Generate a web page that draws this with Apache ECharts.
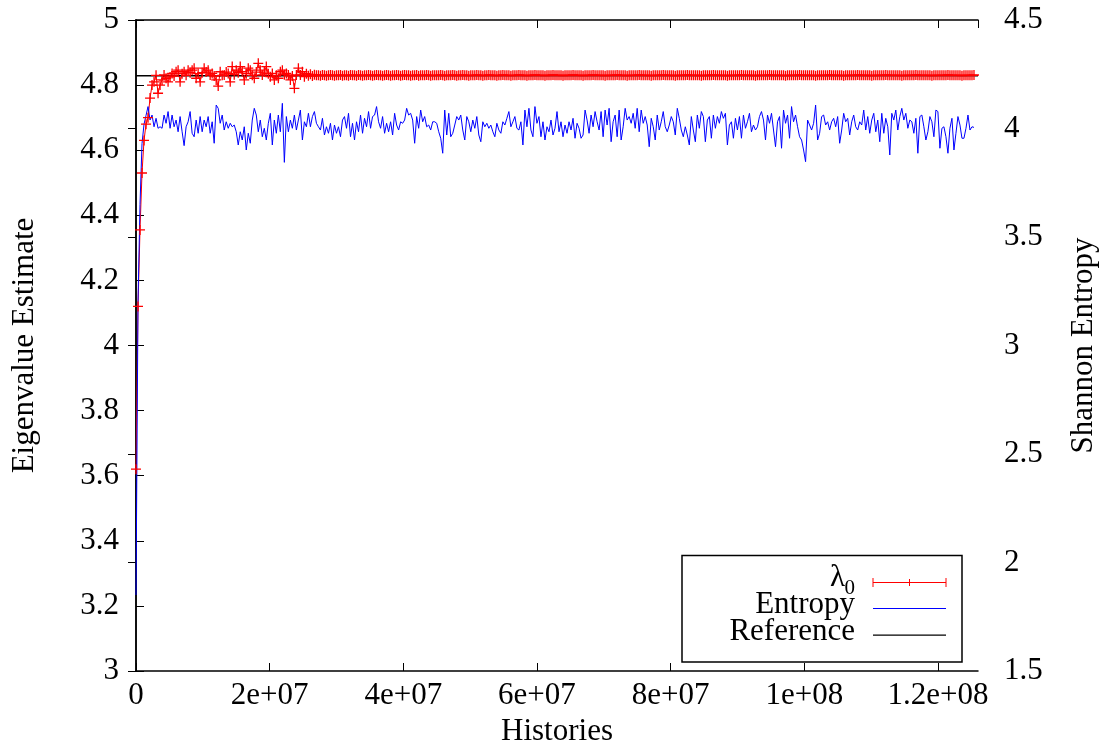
<!DOCTYPE html>
<html>
<head>
<meta charset="utf-8">
<script src="https://cdn.jsdelivr.net/npm/echarts@6/dist/echarts.min.js"></script>
<style>
html,body{margin:0;padding:0;background:#fff;}
#chart{width:1107px;height:753px;}
</style>
</head>
<body>
<div id="chart"></div>
<script>
// ---- data ----
const XSTEP = 3e5;           // histories between successive estimates
const XMAX = 1.26e8;
const XINT = 2e7;
const xTickLabels = ['0', '2e+07', '4e+07', '6e+07', '8e+07', '1e+08', '1.2e+08'];
const REFERENCE = 4.829;

const lambda0 = [
3.62,4.12,4.355,4.53,4.63,4.68,4.70,4.76,4.80,4.81,4.83,4.775,4.80,
4.816,4.831,4.821,4.81,4.825,4.836,4.828,4.841,4.846,4.81,4.835,4.841,4.83,4.846,4.838,4.846,4.852,4.821,
4.835,4.81,4.838,4.852,4.84,4.846,4.831,4.836,4.828,4.816,4.797,4.841,4.83,4.831,4.84,4.836,4.81,4.857,
4.832,4.846,4.838,4.857,4.841,4.816,4.835,4.852,4.846,4.83,4.821,4.84,4.867,4.846,4.831,4.84,4.857,4.835,
4.826,4.836,4.816,4.83,4.821,4.841,4.846,4.832,4.836,4.831,4.816,4.828,4.79,4.831,4.852,4.831,4.841,4.826,
4.835,4.829,4.833,4.828,4.832,4.830,
4.830,4.829,4.831,4.830,4.829,4.830,4.831,4.830,4.829,4.830,4.830,4.831,4.829,4.830,4.830,4.829,4.831,4.830,4.830,4.829,
4.831,4.830,4.829,4.830,4.830,4.831,4.830,4.829,4.830,4.831,4.830,4.830,4.829,4.830,4.831,4.830,4.829,4.830,4.830,4.831,
4.830,4.829,4.830,4.831,4.830,4.830,4.829,4.830,4.830,4.831,4.829,4.830,4.830,4.830,4.831,4.830,4.829,4.830,4.830,4.830,
4.830,4.831,4.830,4.829,4.830,4.830,4.830,4.831,4.830,4.829,4.830,4.830,4.831,4.830,4.830,4.829,4.830,4.830,4.830,4.831,
4.830,4.830,4.829,4.830,4.830,4.831,4.830,4.830,4.830,4.829,4.830,4.830,4.831,4.830,4.830,4.830,4.829,4.830,4.830,4.830,
4.831,4.830,4.830,4.830,4.829,4.830,4.830,4.830,4.831,4.830,4.830,4.830,4.830,4.829,4.830,4.830,4.830,4.831,4.830,4.830,
4.830,4.830,4.829,4.830,4.830,4.830,4.830,4.831,4.830,4.830,4.830,4.830,4.829,4.830,4.830,4.830,4.830,4.831,4.830,4.830,
4.830,4.830,4.830,4.829,4.830,4.830,4.830,4.830,4.830,4.831,4.830,4.830,4.830,4.830,4.829,4.830,4.830,4.830,4.830,4.830,
4.831,4.830,4.830,4.830,4.830,4.830,4.829,4.830,4.830,4.830,4.830,4.830,4.831,4.830,4.830,4.830,4.830,4.830,4.829,4.830,
4.830,4.830,4.830,4.830,4.831,4.830,4.830,4.830,4.830,4.830,4.830,4.829,4.830,4.830,4.830,4.830,4.830,4.831,4.830,4.830,
4.830,4.830,4.830,4.830,4.829,4.830,4.830,4.830,4.830,4.830,4.830,4.831,4.830,4.830,4.830,4.830,4.830,4.830,4.829,4.830,
4.830,4.830,4.830,4.830,4.830,4.831,4.830,4.830,4.830,4.830,4.830,4.830,4.830,4.829,4.830,4.830,4.830,4.830,4.830,4.830,
4.831,4.830,4.830,4.830,4.830,4.830,4.830,4.830,4.829,4.830,4.830,4.830,4.830,4.830,4.830,4.831,4.830,4.830,4.830,4.830,
4.830,4.830,4.829,4.830,4.830,4.830,4.830,4.830,4.830,4.831,4.830,4.830,4.830,4.830,4.830,4.830,4.829,4.830,4.830,4.830,
4.830,4.830,4.830,4.831,4.830,4.830,4.830,4.830,4.830,4.830,4.830,4.829,4.830,4.830,4.830,4.830,4.830,4.830,4.831,4.830,
4.830,4.830,4.830,4.830,4.830,4.830,4.829,4.830,4.830,4.830,4.830,4.830,4.830,4.830,4.831,4.830,4.830,4.830,4.830,4.830,
4.830,4.829,4.830,4.830,4.830,4.830,4.830,4.831
];

const entropy = [
1.85,3.2,3.65,3.93,4.02,4.06,
4.101,4.039,4.062,4.008,4.047,4.001,4.008,4.001,4.062,4.024,4.078,4.001,4.062,4.008,4.039,3.985,4.055,3.985,3.921,4.008,
4.031,4.078,3.978,3.962,4.039,3.978,4.055,3.985,4.039,4.008,4.055,3.978,4.031,3.932,4.108,4.093,4.024,4.062,3.993,4.031,
4.001,4.024,4.008,4.016,3.985,3.924,3.985,3.947,4.008,3.901,3.978,3.932,4.039,4.093,4.062,3.985,4.039,3.962,4.001,3.947,
4.024,4.070,3.924,4.039,3.978,4.062,3.985,4.116,3.844,4.055,3.985,4.039,4.001,4.062,3.993,4.039,4.085,3.947,4.031,4.008,
4.070,4.008,4.055,4.078,4.024,4.008,3.993,4.047,3.970,4.008,3.978,4.024,3.947,4.016,3.978,4.008,3.962,4.039,4.055,4.001,
4.070,3.962,4.024,3.947,4.031,3.985,4.062,3.978,4.047,4.008,4.078,4.001,4.055,4.062,4.101,4.031,4.001,4.055,3.978,4.024,
3.985,4.031,3.970,4.070,4.016,3.993,4.031,4.024,4.039,4.093,4.062,4.070,4.039,3.932,4.055,4.001,
4.085,4.031,4.055,4.008,4.016,3.993,4.031,4.031,4.024,3.985,3.955,3.886,4.085,3.970,4.070,3.962,3.978,4.016,4.055,4.039,
4.062,3.993,3.947,4.055,4.031,3.985,4.039,4.001,4.055,3.970,3.939,4.031,4.008,4.024,4.001,4.016,3.985,3.962,4.024,3.993,
3.978,4.031,4.016,4.047,4.078,4.008,4.031,4.055,4.001,3.993,4.031,3.924,4.085,4.008,4.093,3.993,3.962,4.101,4.024,4.055,
3.962,4.031,3.947,4.008,3.985,4.039,3.970,4.001,4.078,3.985,4.031,3.962,4.016,3.978,4.031,3.993,4.047,3.955,4.024,4.001,
3.955,3.970,4.085,4.039,3.978,4.062,4.008,4.078,4.031,3.993,4.078,3.962,4.085,4.016,4.093,3.939,4.031,4.062,3.962,4.085,
3.947,4.008,4.093,4.039,4.055,4.024,4.070,4.001,4.093,3.985,4.085,4.024,4.055,4.016,3.916,4.047,4.008,3.947,4.062,3.993,
4.031,4.078,4.008,3.985,4.016,4.055,4.031,3.970,4.093,4.047,3.993,3.962,4.008,3.970,3.924,4.055,3.993,3.939,4.062,4.001,
4.078,4.055,3.939,4.039,4.055,3.955,4.062,4.001,4.055,4.024,4.078,4.047,4.070,3.924,4.016,4.031,3.955,4.047,3.993,4.055,
3.955,4.062,4.001,4.031,4.070,3.985,4.016,3.993,4.008,4.055,4.078,4.039,3.947,4.062,4.024,4.070,3.993,3.916,4.031,4.055,
3.909,4.085,4.024,4.062,3.955,4.101,4.031,4.062,4.008,3.962,3.947,3.901,3.847,4.039,4.016,3.993,4.024,4.108,3.947,3.978,
4.055,4.062,4.016,4.031,3.993,4.031,4.047,4.008,4.055,3.932,3.993,4.070,4.031,4.047,3.970,4.031,4.062,4.008,3.993,4.031,
4.016,4.085,3.993,4.055,3.978,4.039,4.070,3.985,4.039,3.939,4.070,3.978,4.047,4.008,3.878,4.070,4.039,4.085,3.993,4.055,
4.093,4.039,4.070,4.001,4.039,4.031,3.978,4.047,3.886,4.055,4.062,4.008,3.947,3.985,4.055,4.031,3.962,4.085,4.078,3.909,
4.001,4.008,3.962,3.886,4.001,4.047,3.901,3.978,4.055,4.016,3.955,3.955,4.001,4.062,3.993,4.008,4.005
];

// ---- chart ----
const FONT = 'Liberation Serif, DejaVu Serif, serif';
const FS = 31;
const chart = echarts.init(document.getElementById('chart'), null, {renderer: 'canvas'});

function xLabel(v) {
  const k = Math.round(v / XINT);
  if (Math.abs(v - k * XINT) > 1) return '';
  return xTickLabels[k] !== undefined ? xTickLabels[k] : '';
}

const axisLineStyle = {show: true, lineStyle: {color: '#000', width: 1.5}};
const tickStyle = {show: true, inside: true, length: 8, lineStyle: {color: '#000', width: 1}};
const labelStyle = {color: '#000', fontFamily: FONT, fontSize: FS};
const nameStyle = {color: '#000', fontFamily: FONT, fontSize: FS};

const legendX1 = 873, legendX2 = 946;
const legendFont = FS + 'px ' + FONT;

chart.setOption({
  animation: false,
  backgroundColor: '#fff',
  grid: {left: 136, right: 129, top: 20, bottom: 82},
  xAxis: [
    {
      type: 'value', position: 'bottom', min: 0, max: XMAX, interval: XINT,
      axisLine: axisLineStyle, axisTick: tickStyle, splitLine: {show: false},
      axisLabel: Object.assign({margin: 9, formatter: xLabel, showMaxLabel: false}, labelStyle),
      name: 'Histories', nameLocation: 'middle', nameGap: 45, nameTextStyle: nameStyle
    },
    {
      type: 'value', position: 'top', min: 0, max: XMAX, interval: XINT,
      axisLine: axisLineStyle, axisTick: tickStyle, splitLine: {show: false},
      axisLabel: {show: false}
    }
  ],
  yAxis: [
    {
      type: 'value', position: 'left', min: 3, max: 5, interval: 0.2,
      axisLine: axisLineStyle, axisTick: tickStyle, splitLine: {show: false},
      axisLabel: Object.assign({margin: 17}, labelStyle),
      name: 'Eigenvalue Estimate', nameLocation: 'middle', nameGap: 96, nameTextStyle: nameStyle
    },
    {
      type: 'value', position: 'right', min: 1.5, max: 4.5, interval: 0.5,
      axisLine: axisLineStyle, axisTick: tickStyle, splitLine: {show: false},
      axisLabel: Object.assign({margin: 26}, labelStyle),
      name: 'Shannon Entropy', nameLocation: 'middle', nameGap: 90, nameTextStyle: nameStyle
    }
  ],
  series: [
    {
      name: 'λ0', type: 'line', xAxisIndex: 0, yAxisIndex: 0,
      data: lambda0.map((v, i) => [i * XSTEP, v]),
      color: '#ff0000',
      lineStyle: {color: '#ff0000', width: 1},
      symbol: 'path://M5 0V10M0 5H10', symbolSize: 10, showSymbol: true, showAllSymbol: true,
      itemStyle: {color: 'rgba(0,0,0,0)', borderColor: '#ff0000', borderWidth: 1.3},
      silent: true, clip: true
    },
    {
      name: 'Entropy', type: 'line', xAxisIndex: 0, yAxisIndex: 1,
      data: entropy.map((v, i) => [i * XSTEP, v]),
      lineStyle: {color: '#0000ff', width: 1}, showSymbol: false, symbol: 'none',
      silent: true, clip: true
    },
    {
      name: 'Reference', type: 'line', xAxisIndex: 0, yAxisIndex: 0,
      data: [[0, REFERENCE], [XMAX, REFERENCE]],
      lineStyle: {color: '#000', width: 1.5}, showSymbol: false, symbol: 'none',
      silent: true
    }
  ],
  graphic: [
    {type: 'rect', id: 'lgbox', shape: {x: 682, y: 555.5, width: 280, height: 106.5},
     style: {fill: 'none', stroke: '#000000', lineWidth: 1.5}, z: 100},
    {type: 'rect', id: 'lgk', z: 100, shape: {x: legendX1, y: 634.5, width: legendX2 - legendX1, height: 1.3},
     style: {fill: '#000000', stroke: 'none'}},
    {type: 'text', id: 'lgt0', z: 101, style: {text: 'λ', x: 845, y: 578, font: legendFont, fill: '#000', textAlign: 'right', textVerticalAlign: 'middle'}},
    {type: 'text', id: 'lgt0s', z: 101, style: {text: '0', x: 855, y: 588, font: '21px ' + FONT, fill: '#000', textAlign: 'right', textVerticalAlign: 'middle'}},
    {type: 'text', id: 'lgt1', z: 101, style: {text: 'Entropy', x: 855, y: 605, font: legendFont, fill: '#000', textAlign: 'right', textVerticalAlign: 'middle'}},
    {type: 'text', id: 'lgt2', z: 101, style: {text: 'Reference', x: 855, y: 632, font: legendFont, fill: '#000', textAlign: 'right', textVerticalAlign: 'middle'}},
    {type: 'line', id: 'lgr1', z: 101, shape: {x1: legendX1, y1: 582.5, x2: legendX2, y2: 582.5}, style: {stroke: '#ff0000', lineWidth: 1}},
    {type: 'line', id: 'lgr2', z: 101, shape: {x1: legendX1, y1: 578, x2: legendX1, y2: 587}, style: {stroke: '#ff0000', lineWidth: 1}},
    {type: 'line', id: 'lgr3', z: 101, shape: {x1: legendX2, y1: 578, x2: legendX2, y2: 587}, style: {stroke: '#ff0000', lineWidth: 1}},
    {type: 'line', id: 'lgr4', z: 101, shape: {x1: 909.5, y1: 579, x2: 909.5, y2: 586}, style: {stroke: '#ff0000', lineWidth: 1}},
    {type: 'line', id: 'lgb', z: 101, shape: {x1: legendX1, y1: 608.5, x2: legendX2, y2: 608.5}, style: {stroke: '#0000ff', lineWidth: 1}}
  ]
});
</script>
</body>
</html>
